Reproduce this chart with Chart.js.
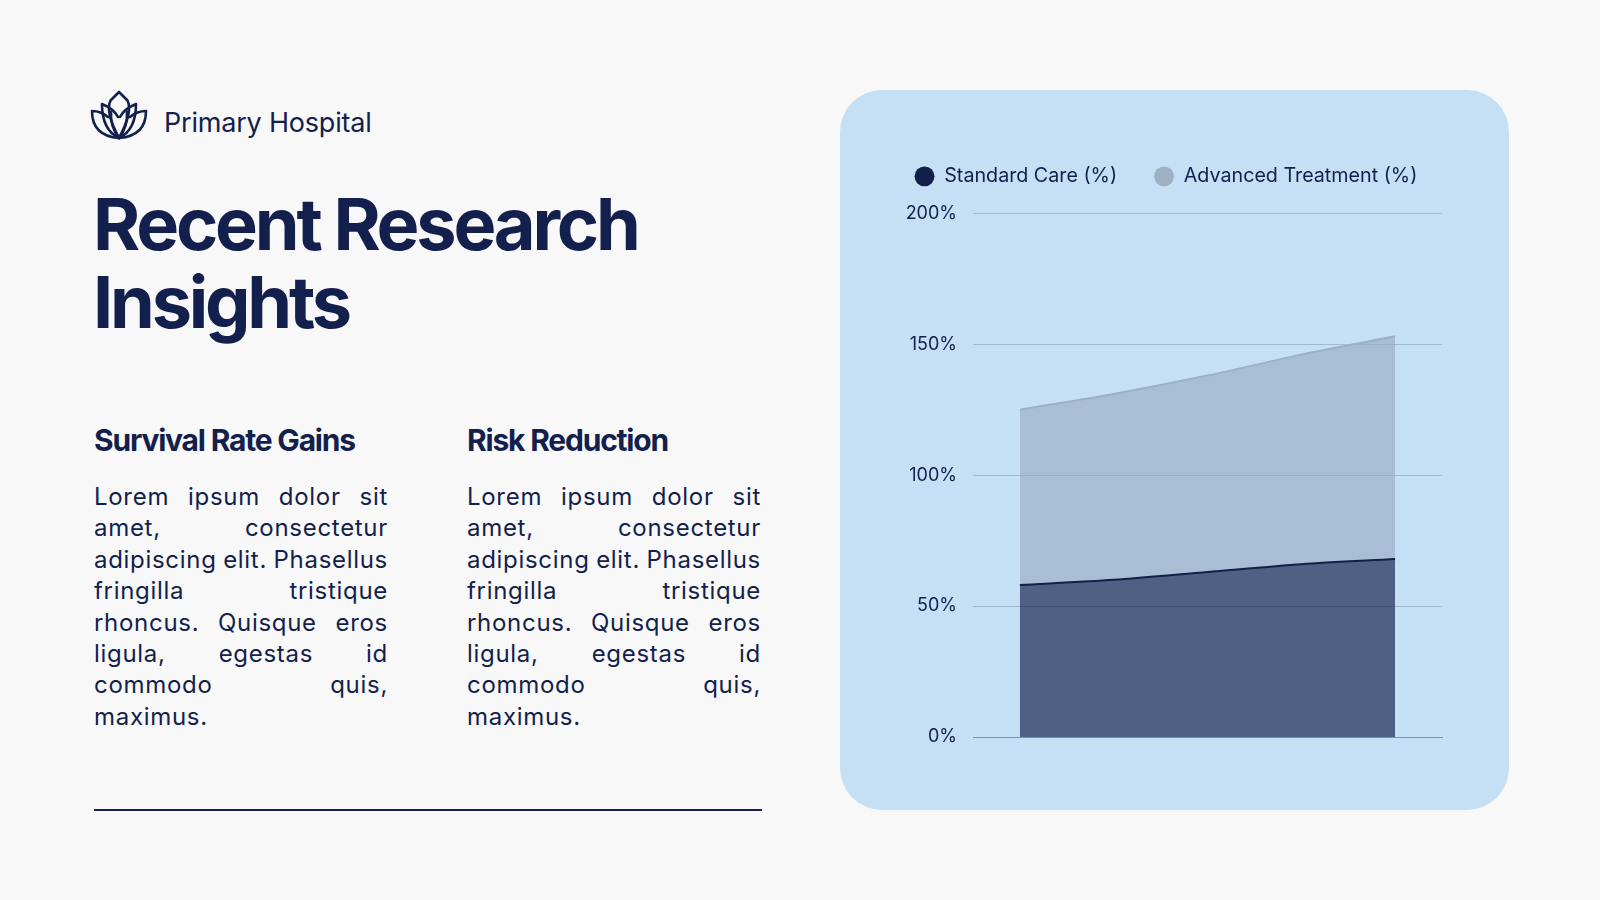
<!DOCTYPE html>
<html>
<head>
<meta charset="utf-8">
<script src="https://cdn.jsdelivr.net/npm/chart.js@4.4.1/dist/chart.umd.min.js"></script>
<style>
  html, body { margin:0; padding:0; }
  body { width:1600px; height:900px; background:#f8f8f8; position:relative; overflow:hidden; font-family:Inter, "Noto Sans", sans-serif; color:#131f4c; }
  .logo { position:absolute; left:89px; top:90px; width:60px; height:50px; }
  .brand { position:absolute; left:164px; top:103px; font-size:27px; line-height:40px; font-weight:400; letter-spacing:-0.2px; }
  h1 { position:absolute; left:93px; top:185px; margin:0; font-size:72px; line-height:78px; font-weight:700; letter-spacing:-3.2px; width:700px; }
  .col { position:absolute; top:422px; width:294px; }
  .col h2 { margin:0; font-size:30px; line-height:36px; font-weight:700; letter-spacing:-1.2px; white-space:nowrap; }
  .col p { margin:23px 0 0 0; font-size:24px; line-height:31.4px; text-align:justify; text-align-last:justify; letter-spacing:0.7px; word-spacing:-1px; width:300px; margin-right:-6px; }
  .col p span { display:block; width:294px; }
  .rule { position:absolute; left:94px; top:809px; width:668px; height:2px; background:#131f4c; }
  .panel { position:absolute; left:840px; top:90px; width:669px; height:720px; background:#c5dff5; border-radius:42px; }
  .panel canvas { position:absolute; left:0; top:0; }
</style>
</head>
<body>
<svg class="logo" viewBox="0 0 60 50" fill="none" stroke="#131f4c" stroke-width="2.6" stroke-linejoin="round" stroke-linecap="round">
  <path d="M30 2 L38.5 10.5 Q44 22 30 48 Q16 22 21.5 10.5 Z"/>
  <path d="M30 48 Q13 40 13 14 Q25 19 29 27"/>
  <path d="M30 48 Q47 40 47 14 Q35 19 31 27"/>
  <path d="M30 48 Q3 46 3 21 Q12 21 19 27"/>
  <path d="M30 48 Q57 46 57 21 Q48 21 41 27"/>
  <path d="M30 48 Q21 36 22 22"/>
  <path d="M30 48 Q39 36 38 22"/>
</svg>
<div class="brand">Primary Hospital</div>
<h1>Recent Research<br>Insights</h1>
<div class="col" style="left:94px">
  <h2>Survival Rate Gains</h2>
  <p><span>Lorem ipsum dolor sit</span><span>amet, consectetur</span><span>adipiscing elit. Phasellus</span><span>fringilla tristique</span><span>rhoncus. Quisque eros</span><span>ligula, egestas id</span><span>commodo quis,</span><span>maximus.</span></p>
</div>
<div class="col" style="left:467px">
  <h2>Risk Reduction</h2>
  <p><span>Lorem ipsum dolor sit</span><span>amet, consectetur</span><span>adipiscing elit. Phasellus</span><span>fringilla tristique</span><span>rhoncus. Quisque eros</span><span>ligula, egestas id</span><span>commodo quis,</span><span>maximus.</span></p>
</div>
<div class="rule"></div>
<div class="panel"><canvas id="c" width="669" height="720"></canvas></div>
<script>
const categories = ["2019", "2020", "2021", "2022", "2023"];
const standardCare = [58, 60, 63, 66, 68];
const advancedTreatment = [67, 71, 75, 80, 85];
const yTicks = [0, 50, 100, 150, 200];

const navy = "#131f4c";
const solidColors = ["#131f4b", "#9eb0c1"];

const legendGap = {
  id: "legendGap",
  beforeInit(chart) {
    const fit = chart.legend.fit;
    chart.legend.fit = function () { fit.call(this); this.height += 17; };
  }
};

new Chart(document.getElementById("c"), {
  type: "line",
  data: {
    labels: categories,
    datasets: [
      { label: "Standard Care (%)", data: standardCare, borderColor: "#131f4b", backgroundColor: "rgba(20,33,75,0.67)", borderWidth: 2, fill: "origin", tension: 0.3, pointRadius: 0 },
      { label: "Advanced Treatment (%)", data: advancedTreatment, borderColor: "#9cb0c3", backgroundColor: "rgba(148,168,190,0.6)", borderWidth: 2, fill: "-1", tension: 0.3, pointRadius: 0 }
    ]
  },
  plugins: [legendGap],
  options: {
    responsive: false,
    animation: false,
    layout: { padding: { left: 50, right: 67, top: 56, bottom: 73 } },
    plugins: {
      tooltip: { enabled: false },
      legend: {
        position: "top",
        labels: {
          usePointStyle: true, pointStyle: "circle", boxWidth: 20, boxHeight: 14.1, padding: 20.5,
          color: navy, font: { family: "Inter", size: 19.7 },
          generateLabels(chart) {
            const n = chart.data.datasets.length;
            return chart.data.datasets.map((d, i) => ({
              text: i < n - 1 ? d.label + "   " : d.label,
              fillStyle: solidColors[i], strokeStyle: solidColors[i], lineWidth: 0,
              pointStyle: "circle", datasetIndex: i, hidden: false, fontColor: navy
            }));
          }
        }
      }
    },
    scales: {
      x: {
        offset: true,
        stacked: true,
        grid: { display: false, drawTicks: false },
        border: { display: true, color: "#7d90a9", width: 1 },
        ticks: { display: false }
      },
      y: {
        stacked: true,
        min: 0, max: 200,
        afterBuildTicks(scale) { scale.ticks = yTicks.map(v => ({ value: v })); },
        afterFit(scale) { scale.width = 83; },
        grid: { color: "#a3b9d0", drawTicks: false, lineWidth: 1 },
        border: { display: false },
        ticks: { padding: 16, color: navy, font: { family: "Inter", size: 18 }, callback: v => v + "%" }
      }
    }
  }
});
</script>
</body>
</html>
